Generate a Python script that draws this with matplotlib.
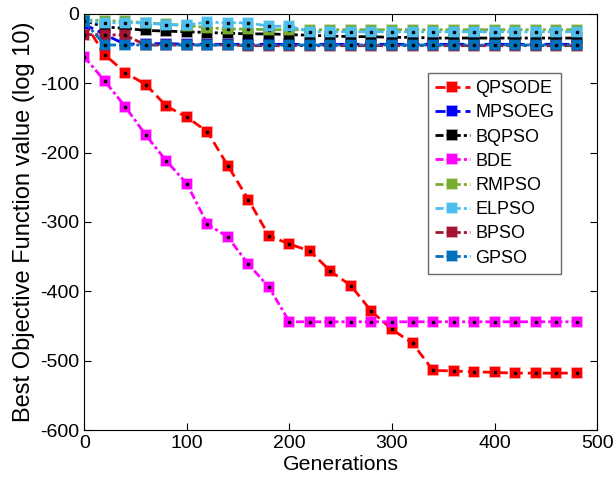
import matplotlib
matplotlib.use("Agg")
import matplotlib.pyplot as plt
from matplotlib.colors import to_rgba
import numpy as np

plt.rcParams['font.family'] = ['Liberation Sans', 'DejaVu Sans']
plt.rcParams['axes.unicode_minus'] = False

gens = list(range(0, 500, 20))

qpsode = [-12, -59, -85, -102, -133, -149, -170, -219, -268, -320, -332, -342, -371,
          -392, -429, -455, -475, -514, -515, -516, -517, -518, -518, -518, -518]
mpsoeg = [-15, -30, -44, -43, -43, -44, -44, -44, -44, -44, -44, -44, -44,
          -44, -44, -44, -44, -44, -44, -44, -44, -44, -44, -44, -44]
bqpso = [-10, -19, -21, -24, -25, -26, -27, -28, -29, -29, -30, -31, -32,
         -33, -33, -34, -34, -35, -35, -35, -35, -35, -35, -35, -35]
bde = [-62, -97, -134, -175, -212, -245, -303, -322, -361, -394, -444, -444, -444,
       -444, -444, -444, -444, -444, -444, -444, -444, -444, -444, -444, -444]
rmpso = [-9, -10, -11, -13, -15, -17, -20, -22, -22, -23, -23, -23, -23,
         -23, -23, -23, -23, -23, -23, -23, -23, -23, -23, -23, -23]
elpso = [-10, -13, -13, -13, -16, -16, -12, -13, -13, -18, -18, -26, -26,
         -26, -26, -26, -26, -26, -26, -26, -26, -26, -26, -26, -26]
bpso = [-30, -30, -31, -45, -45, -45, -45, -45, -46, -46, -46, -46, -46,
        -46, -46, -46, -46, -46, -46, -46, -46, -46, -46, -46, -46]
gpso = [-11, -45, -45, -45, -45, -45, -45, -45, -45, -45, -45, -45, -45,
        -45, -45, -45, -45, -45, -45, -45, -45, -45, -45, -45, -45]

series = [
    ("QPSODE", qpsode, "#FF0000", "--"),
    ("MPSOEG", mpsoeg, "#0000FF", "--"),
    ("BQPSO", bqpso, "#000000", "-."),
    ("BDE", bde, "#FF00FF", "-."),
    ("RMPSO", rmpso, "#77AC30", "-."),
    ("ELPSO", elpso, "#4DBEEE", "-."),
    ("BPSO", bpso, "#A2142F", "-."),
    ("GPSO", gpso, "#0072BD", "-."),
]

fig = plt.figure(figsize=(6.15, 4.92), dpi=100)
ax = fig.add_axes([0.137, 0.126, 0.834, 0.846])

handles = []
for name, vals, col, ls in series:
    edge = to_rgba(col, 0.45)
    h, = ax.plot(gens, vals, color=col, linewidth=2,
                 marker='s', markersize=6.5, markerfacecolor=col,
                 markeredgecolor=edge, markeredgewidth=1.2, label=name)
    if ls == "--":
        h.set_dashes((3.6, 1.8))
    else:
        h.set_dashes((2.9, 1.1, 1.1, 1.1))
    ax.plot(gens, vals, linestyle='none', marker='s', markersize=2,
            markerfacecolor='black', markeredgecolor='black')
    handles.append(h)

ax.set_xlim(0, 500)
ax.set_ylim(-600, 0)
ax.set_xticks([0, 100, 200, 300, 400, 500])
ax.set_yticks([-600, -500, -400, -300, -200, -100, 0])
ax.tick_params(direction='in', top=True, right=True, labelsize=14, length=5)
ax.set_xlabel("Generations", fontsize=15.3, labelpad=2)
ax.set_ylabel("Best Objective Function value (log 10)", fontsize=17, labelpad=4)

leg = ax.legend(handles=handles, loc='upper right', bbox_to_anchor=(0.930, 0.858),
                borderaxespad=0, fontsize=13, frameon=True, fancybox=False,
                edgecolor='#444444', handlelength=1.9, borderpad=0.4,
                labelspacing=0.4, handletextpad=0.3)
leg.get_frame().set_linewidth(1)

fig.savefig("out.png", dpi=100)
